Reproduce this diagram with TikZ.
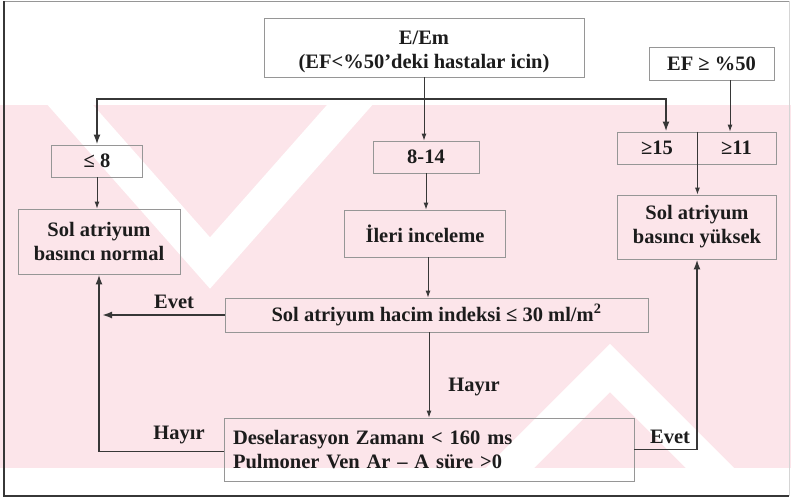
\documentclass[tikz,border=0pt]{standalone}
\usepackage{fontspec}
\setmainfont{Liberation Serif}
\usetikzlibrary{arrows.meta}
\definecolor{wm}{RGB}{252,229,234}
\definecolor{ink}{RGB}{28,28,28}
\definecolor{boxline}{RGB}{150,150,150}
\definecolor{wire}{RGB}{55,55,55}
\begin{document}
\begin{tikzpicture}[x=1pt,y=-1pt,
  box/.style={draw=boxline, line width=0.9pt, inner sep=0pt, align=center,
    font=\bfseries\fontsize{20.5}{24}\selectfont, text=ink},
  lbl/.style={inner sep=0pt, font=\bfseries\fontsize{20.5}{24}\selectfont, text=ink},
  thin/.style={draw=wire, line width=0.9pt, -{Latex[length=7pt,width=5pt]}},
  thk/.style={draw=wire, line width=1.8pt, -{Latex[length=10pt,width=7pt]}},
  stripe/.style={white, line width=34pt, line join=miter}]
\useasboundingbox (0,0) rectangle (791,499);
\fill[white] (0,0) rectangle (791,499);
% watermark
\begin{scope}
\clip (0,105) rectangle (791,468);
\fill[wm] (0,105) rectangle (791,468);
\draw[stripe] (35,65) -- (210,263) -- (385,65);
\draw[stripe] (470,508) -- (610,368) -- (750,508);
\end{scope}
% frame
\draw[boxline, line width=0.8pt] (789,1) -- (4,1);
\draw[wire, line width=1.2pt] (4,1) -- (4,496) -- (789,496);
\draw[boxline!40, line width=0.8pt] (789,1) -- (789,496);
% nodes
\node[box, minimum width=320, minimum height=59] (em) at (424,47.5) {\rule{0pt}{23pt}E/Em\\(EF<\%50’deki hastalar icin)};
\node[box, minimum width=125, minimum height=33] (ef) at (711.5,63.5) {EF ≥ \%50};
\node[box, minimum width=91, minimum height=32] (le8) at (97,161) {≤ 8};
\node[box, minimum width=106, minimum height=32] (mid) at (426,157) {8-14};
\node[box, minimum width=80, minimum height=32] (ge15) at (657,148) {≥15};
\node[box, minimum width=79, minimum height=32] (ge11) at (736.5,148) {≥11};
\node[box, minimum width=162, minimum height=65] (normal) at (99,241.5) {Sol atriyum\\basıncı normal};
\node[box, minimum width=161, minimum height=47] (ileri) at (425,233.5) {İleri inceleme};
\node[box, minimum width=159, minimum height=64] (yuksek) at (697,227) {Sol atriyum\\basıncı yüksek};
\node[box, minimum width=423, minimum height=34] (hacim) at (436.5,315) {Sol atriyum hacim indeksi ≤ 30 ml/m\textsuperscript{2}};
\node[box, align=left, text width=392pt, inner xsep=9pt, minimum height=63] (desel) at (429,449.5) {Deselarasyon Zamanı < 160 ms\\Pulmoner Ven Ar – A süre >0};
% connectors
\coordinate (hl) at (97,99);
\coordinate (hr) at (666,99);
\draw[thk, {Latex[length=10pt,width=7pt]}-{Latex[length=10pt,width=7pt]}] (hl |- le8.north) -- (hl) -- (hr) -- (hr |- ge15.north);
\draw[thin] (em.south) -- (em.south |- mid.north);
\draw[thin] ([xshift=18.5pt]ef.south) -- ([xshift=18.5pt]ef.south |- ge11.north);
\draw[thin] (ge15.north east) -- (ge15.north east |- yuksek.north);
\draw[thin] (le8.south) -- (le8.south |- normal.north);
\draw[thin] (mid.south) -- (mid.south |- ileri.north);
\draw[thin] ([xshift=3pt]ileri.south) -- ([xshift=3pt]ileri.south |- hacim.north);
\draw[thin] (desel.north |- hacim.south) -- (desel.north);
\draw[thk] (hacim.west) -- ([xshift=3pt]hacim.west -| normal.south);
\draw[thk] ([yshift=-2pt]desel.west) -| (normal.south);
\draw[thk] (desel.east) -| (yuksek.south);
% labels
\node[lbl] (l1) at (174,302) {Evet};
\node[lbl] (l2) at (474,387) {Hayır};
\node[lbl] (l3) at (179,435) {Hayır};
\node[lbl] (l4) at (670,437) {Evet};
\end{tikzpicture}
\end{document}
